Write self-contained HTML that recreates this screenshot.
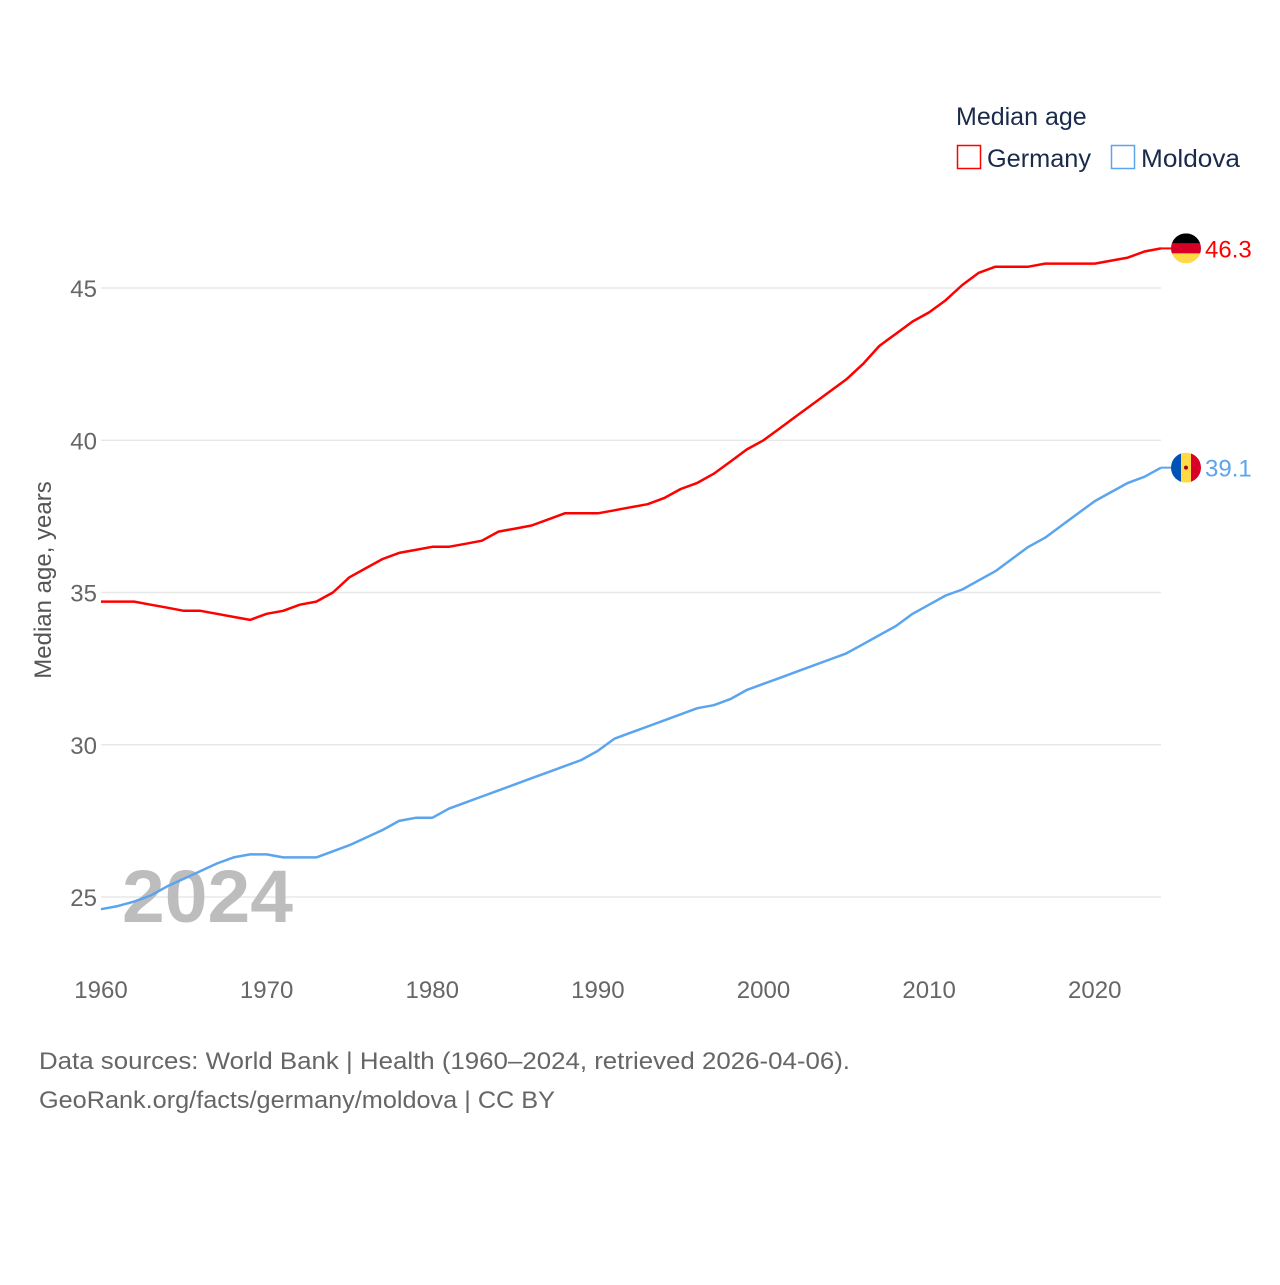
<!DOCTYPE html>
<html><head><meta charset="utf-8"><style>
body{margin:0;background:#fff;font-family:"Liberation Sans",sans-serif}
svg text{font-family:"Liberation Sans",sans-serif}
</style></head><body>
<svg width="1280" height="1280" viewBox="0 0 1280 1280">
<g id="grid"></g>
<g id="yticks"></g>
<g id="xticks"></g>
<text x="122" y="922" font-size="74" font-weight="bold" fill="#bdbdbd" textLength="171" lengthAdjust="spacingAndGlyphs">2024</text>
<g id="lines"></g>
<text transform="translate(51,580) rotate(-90)" text-anchor="middle" font-size="24" fill="#555">Median age, years</text>
<text x="956" y="125" font-size="25" fill="#1a2a4a">Median age</text>
<g><rect x="957.5" y="145.5" width="23" height="23" fill="none" stroke="#ff0000" stroke-width="1.5"/><text x="987" y="167" font-size="25" fill="#1a2a4a" textLength="104" lengthAdjust="spacingAndGlyphs">Germany</text></g>
<g><rect x="1111.5" y="145.5" width="23" height="23" fill="none" stroke="#5ba4ee" stroke-width="1.5"/><text x="1141" y="167" font-size="25" fill="#1a2a4a" textLength="99" lengthAdjust="spacingAndGlyphs">Moldova</text></g>
<g id="ends"></g>
<text x="39" y="1069" font-size="24" fill="#666" textLength="811" lengthAdjust="spacingAndGlyphs">Data sources: World Bank | Health (1960–2024, retrieved 2026-04-06).</text>
<text x="39" y="1108" font-size="24" fill="#666" textLength="516" lengthAdjust="spacingAndGlyphs">GeoRank.org/facts/germany/moldova | CC BY</text>
</svg>
<script>
const years=[];for(let y=1960;y<=2024;y++)years.push(y);
const germany=[34.7,34.7,34.7,34.6,34.5,34.4,34.4,34.3,34.2,34.1,34.3,34.4,34.6,34.7,35.0,35.5,35.8,36.1,36.3,36.4,36.5,36.5,36.6,36.7,37.0,37.1,37.2,37.4,37.6,37.6,37.6,37.7,37.8,37.9,38.1,38.4,38.6,38.9,39.3,39.7,40.0,40.4,40.8,41.2,41.6,42.0,42.5,43.1,43.5,43.9,44.2,44.6,45.1,45.5,45.7,45.7,45.7,45.8,45.8,45.8,45.8,45.9,46.0,46.2,46.3];
const moldova=[24.6,24.7,24.85,25.05,25.35,25.6,25.85,26.1,26.3,26.4,26.4,26.3,26.3,26.3,26.5,26.7,26.95,27.2,27.5,27.6,27.6,27.9,28.1,28.3,28.5,28.7,28.9,29.1,29.3,29.5,29.8,30.2,30.4,30.6,30.8,31.0,31.2,31.3,31.5,31.8,32.0,32.2,32.4,32.6,32.8,33.0,33.3,33.6,33.9,34.3,34.6,34.9,35.1,35.4,35.7,36.1,36.5,36.8,37.2,37.6,38.0,38.3,38.6,38.8,39.1];
const yTicks=[25,30,35,40,45];
const xTicks=[1960,1970,1980,1990,2000,2010,2020];
const X=y=>101+(y-1960)*(1161-101)/64;
const Y=v=>288+(45-v)*30.45;
const NS='http://www.w3.org/2000/svg';
function mk(tag,attrs,parent,txt){const e=document.createElementNS(NS,tag);for(const k in attrs)e.setAttribute(k,attrs[k]);if(txt!=null)e.textContent=txt;parent.appendChild(e);return e;}
const grid=document.getElementById('grid'),yt=document.getElementById('yticks'),xt=document.getElementById('xticks'),lines=document.getElementById('lines'),ends=document.getElementById('ends');
yTicks.forEach(t=>{
 const l=mk('line',{x1:101,x2:1161,y1:Y(t),y2:Y(t),stroke:'#e8e8e8','stroke-width':1.5},grid);
 
 
 const tx=mk('text',{x:97,y:Y(t)+9,'text-anchor':'end','font-size':24,fill:'#666'},yt,t);
 
 
});
xTicks.forEach(t=>{
 const tx=mk('text',{x:X(t),y:998,'text-anchor':'middle','font-size':24,fill:'#666'},xt,t);
 
 
});
function line(data,color,name){
 const d=data.map((v,i)=>(i?'L':'M')+X(years[i]).toFixed(1)+','+Y(v).toFixed(1)).join('');
 const p=mk('path',{d:d,fill:'none',stroke:color,'stroke-width':2.5,'stroke-linejoin':'round'},lines);
 
 
}
line(germany,'#ff0000','germany-line');
line(moldova,'#5ba4ee','moldova-line');
function endLabel(data,color,name,flag){
 const v=data[data.length-1],cy=Y(v),cx=1186;
 const g=mk('g',{},ends);
 
 
 mk('line',{x1:1161,x2:1172,y1:cy,y2:cy,stroke:color,'stroke-width':2},g);
 const id='c'+name;
 const cp=mk('clipPath',{id:id},g);mk('circle',{cx:cx,cy:cy,r:15},cp);
 const fg=mk('g',{'clip-path':'url(#'+id+')'},g);
 if(flag==='de'){mk('rect',{x:cx-15,y:cy-15,width:30,height:10,fill:'#000'},fg);mk('rect',{x:cx-15,y:cy-5,width:30,height:10,fill:'#d80027'},fg);mk('rect',{x:cx-15,y:cy+5,width:30,height:10,fill:'#ffda44'},fg);}
 else{mk('rect',{x:cx-15,y:cy-15,width:10,height:30,fill:'#0052b4'},fg);mk('rect',{x:cx-5,y:cy-15,width:10,height:30,fill:'#ffda44'},fg);mk('rect',{x:cx+5,y:cy-15,width:10,height:30,fill:'#d80027'},fg);mk('circle',{cx:cx,cy:cy,r:2,fill:'#a2001d'},fg);}
 mk('text',{x:1205,y:cy+9,'font-size':24,fill:color},g,v.toFixed(1));
}
endLabel(germany,'#ff0000','germany-end-label','de');
endLabel(moldova,'#5ba4ee','moldova-end-label','md');
</script>
</body></html>
